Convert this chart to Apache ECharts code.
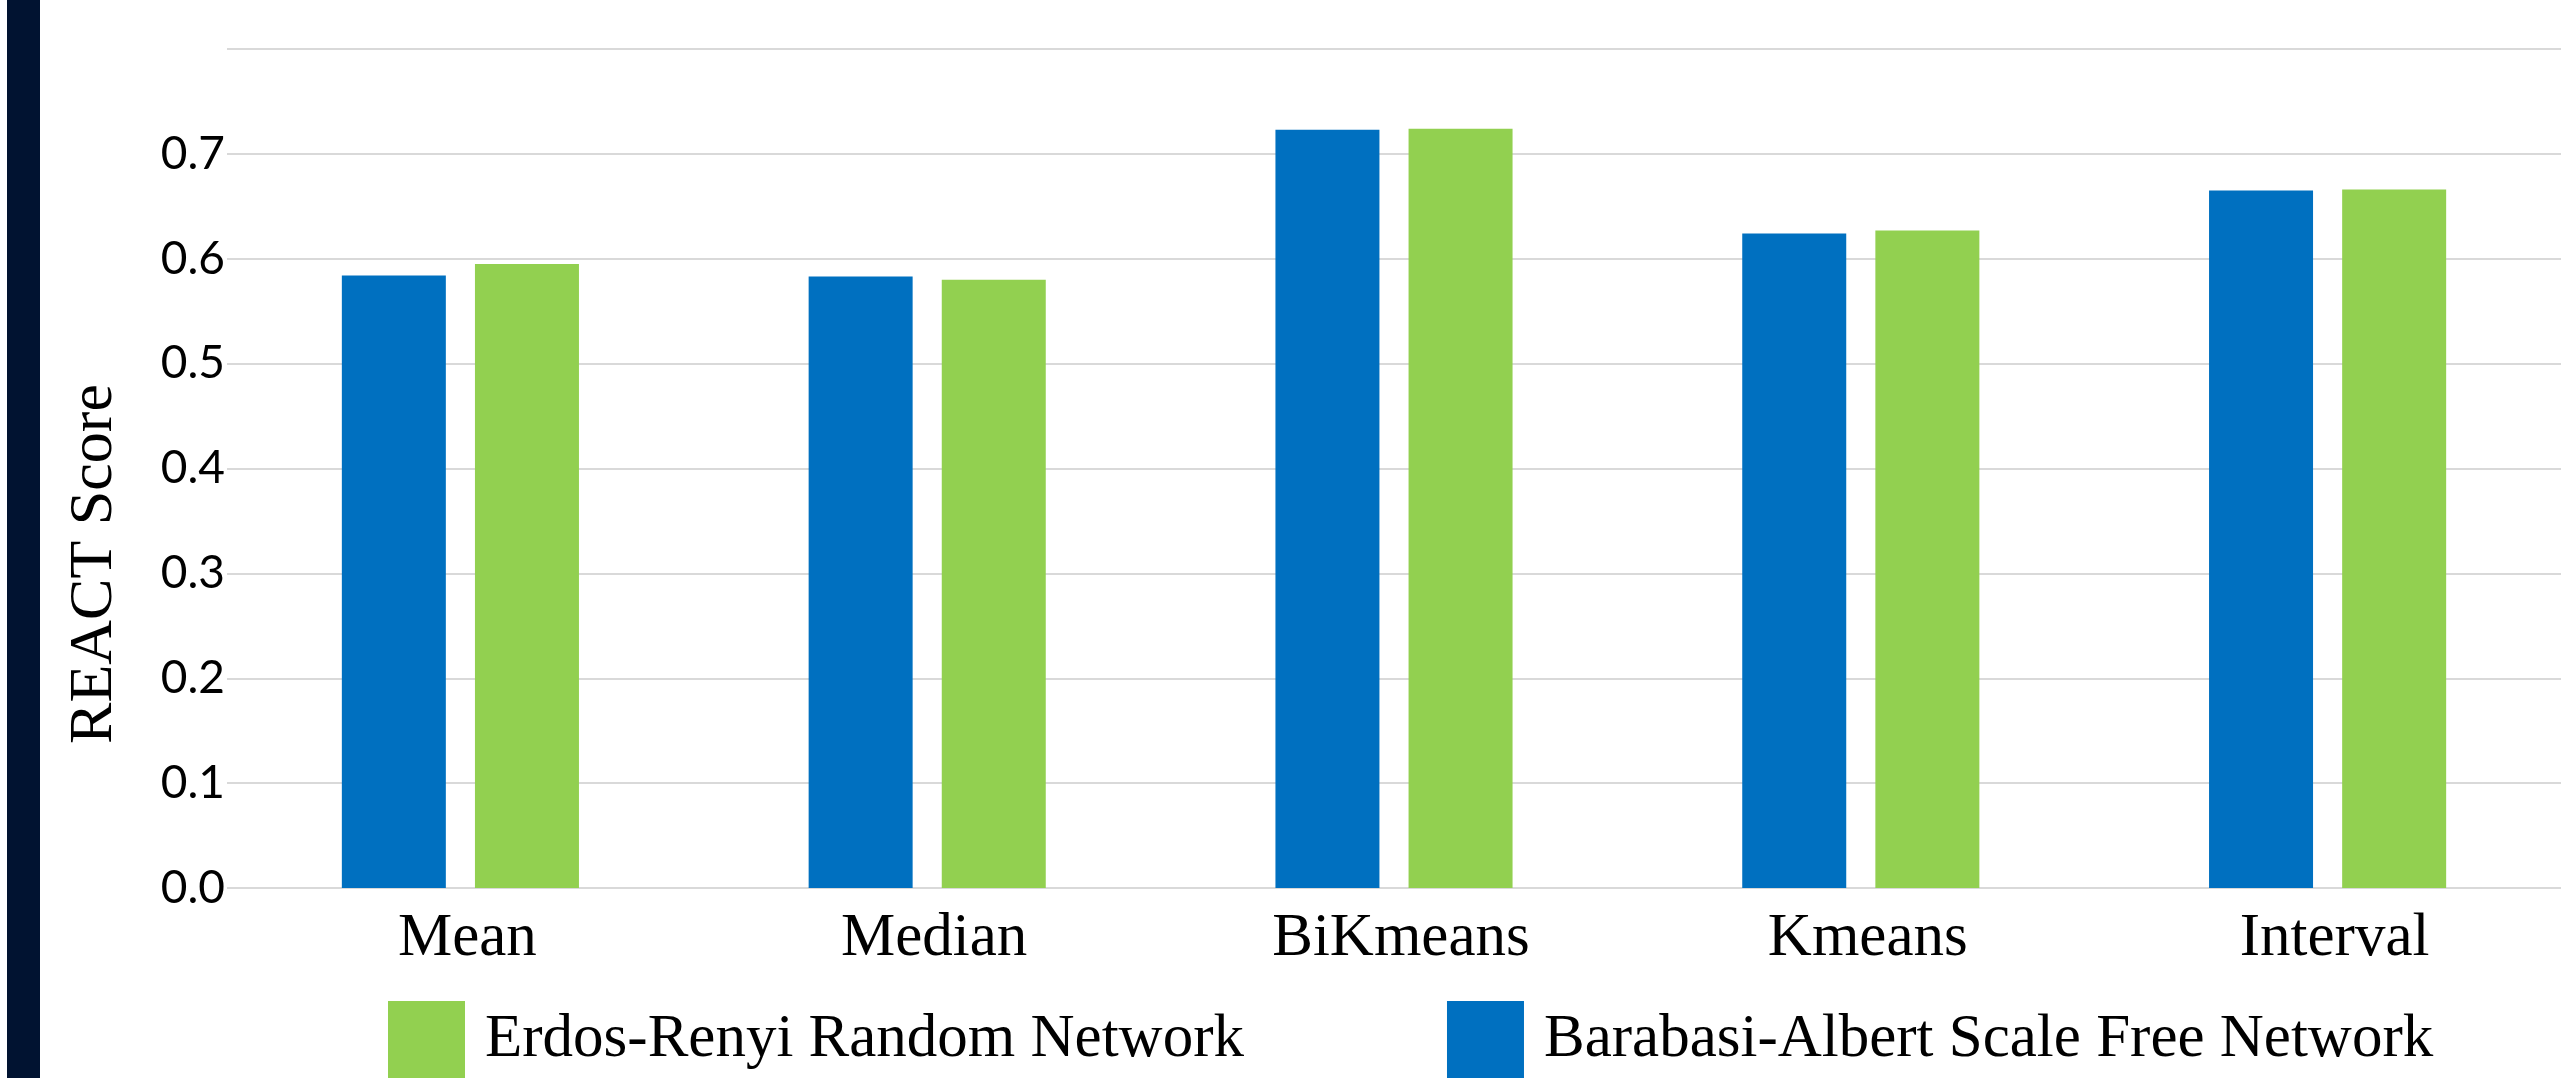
<!DOCTYPE html>
<html>
<head>
    <meta charset="UTF-8">
    <title>REACT Score</title>
    <style>
        *{
            margin: 0;
            padding: 0;
        }
        .container{
            width: 2561px;
            height: 1078px;
            background: #ffffff;
        }
    </style>
    <script src="https://cdn.jsdelivr.net/npm/echarts@6/dist/echarts.min.js"></script>
</head>
<body>
<div class="container"></div>
<script>
    // values
    let categories=['Mean','Median','BiKmeans','Kmeans','Interval']
    let baValues=[0.584,0.583,0.723,0.624,0.665]   // Barabasi-Albert
    let erValues=[0.595,0.580,0.724,0.627,0.666]   // Erdos-Renyi
    let baName='Barabasi-Albert Scale Free Network'
    let erName='Erdos-Renyi Random Network'

    let container=document.querySelector('.container')
    let mychart=echarts.init(container)

    let serif='"Liberation Serif", "Times New Roman", serif'

    let option={
        backgroundColor:'#ffffff',
        animation:false,
        grid:{
            left:227,
            right:0,
            top:49,
            bottom:190
        },
        graphic:[
            {
                type:'rect',
                shape:{x:7,y:0,width:33,height:1078},
                style:{fill:'#011331'}
            },
            {
                type:'text',
                x:95,
                y:564,
                rotation:Math.PI/2,
                style:{
                    text:'REACT Score',
                    font:'62px '+serif,
                    fill:'#000',
                    textAlign:'center',
                    textVerticalAlign:'middle'
                }
            }
        ],
        legend:{
            data:[erName,baName],
            left:383,
            top:996,
            itemWidth:77,
            itemHeight:77,
            itemGap:203,
            icon:'rect',
            textStyle:{
                fontFamily:serif,
                fontSize:61,
                color:'#000',
                padding:[16,0,0,15]
            }
        },
        xAxis:{
            type:'category',
            data:categories,
            axisLine:{show:false},
            axisTick:{show:false},
            axisLabel:{
                fontFamily:serif,
                fontSize:61,
                color:'#000',
                margin:20,
                padding:[0,0,0,14]
            }
        },
        yAxis:{
            type:'value',
            min:0,
            max:0.8,
            interval:0.1,
            axisLine:{show:false},
            axisTick:{show:false},
            axisLabel:{
                fontFamily:'Lato',
                fontSize:46,
                color:'#000',
                margin:2,
                padding:[0,0,14,0],
                formatter:function(v){
                    return v>=0.75?'':v.toFixed(1)
                }
            },
            splitLine:{
                lineStyle:{color:'#d9d9d9',width:2}
            }
        },
        series:[
            {
                name:baName,
                type:'bar',
                data:baValues,
                barWidth:104,
                barGap:'28%',
                itemStyle:{color:'#0070c0'}
            },
            {
                name:erName,
                type:'bar',
                data:erValues,
                barWidth:104,
                barGap:'28%',
                itemStyle:{color:'#92d050'}
            }
        ]
    }
    mychart.setOption(option)
</script>
</body>
</html>
